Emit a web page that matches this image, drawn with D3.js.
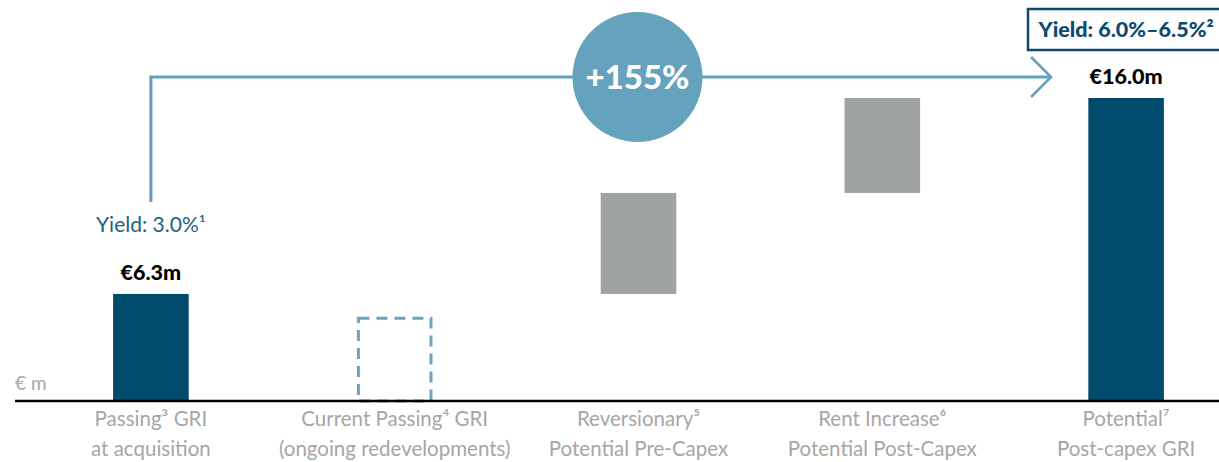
<!DOCTYPE html>
<html><head><meta charset="utf-8">
<script src="https://cdn.jsdelivr.net/npm/d3@7"></script>
<style>body{margin:0;background:#fff}svg{display:block}text{font-family:Lato,"Open Sans",sans-serif}</style>
</head><body><svg id="c" width="1219" height="462"></svg>
<script>
const categories = ["Passing³ GRI|at acquisition","Current Passing⁴ GRI|(ongoing redevelopments)","Reversionary⁵|Potential Pre-Capex","Rent Increase⁶|Potential Post-Capex","Potential⁷|Post-capex GRI"];
const barStart = [1.0, 1.0, 6.3, 11.3, 1.0];
const barEnd   = [6.3, 5.1, 11.3, 16.0, 16.0];
const barType  = ["solid","dashed","gray","gray","solid"];
const valueLabels = ["€6.3m", null, null, null, "€16.0m"];
const growthLabel = "+155%";
const yieldStart = "Yield: 3.0%¹";
const yieldEnd = "Yield: 6.0%–6.5%²";
const unitLabel = "€ m";

const svg = d3.select("#c");
const x = d3.scaleBand().domain(d3.range(categories.length)).range([29,1248]).paddingInner(0.69).paddingOuter(0.345);
const y = d3.scaleLinear().domain([1.0,16.0]).range([401,98]);
const cx = i => x(i) + x.bandwidth()/2;
const colors = {solid:"#004a6b", gray:"#9fa3a3"};

categories.forEach((c,i)=>{
  if(barType[i]==="dashed"){
    svg.append("rect").attr("x",x(i)+1.5).attr("y",y(barEnd[i])).attr("width",x.bandwidth()-3).attr("height",y(barStart[i])-y(barEnd[i]))
      .attr("fill","none").attr("stroke","#6aa5c0").attr("stroke-width",3).attr("stroke-dasharray","11,7");
  } else {
    svg.append("rect").attr("x",x(i)).attr("y",y(barEnd[i])).attr("width",x.bandwidth()).attr("height",y(barStart[i])-y(barEnd[i]))
      .attr("fill",colors[barType[i]]);
  }
  if(valueLabels[i]) svg.append("text").attr("x",cx(i)).attr("y",y(barEnd[i])-14).attr("text-anchor","middle")
      .attr("font-size",21.5).attr("font-weight",900).attr("fill","#000").text(valueLabels[i]);
  const parts = c.split("|");
  parts.forEach((p,k)=>svg.append("text").attr("x",cx(i)).attr("y",426+k*30).attr("text-anchor","middle")
      .attr("font-size",20.5).attr("fill","#a6a6a6").text(p));
});

svg.append("line").attr("x1",15).attr("x2",1219).attr("y1",401).attr("y2",401).attr("stroke","#000").attr("stroke-width",2.5);
svg.append("text").attr("x",15).attr("y",390).attr("font-size",19).attr("fill","#a6a6a6").text(unitLabel);

const ay = 77;
svg.append("path").attr("d",`M${cx(0)},${y(6.3)-92} V${ay} H${cx(4)-75}`).attr("fill","none").attr("stroke","#62a0bb").attr("stroke-width",3);
svg.append("path").attr("d",`M${cx(4)-95},${ay-20} L${cx(4)-75},${ay} L${cx(4)-95},${ay+20}`).attr("fill","none").attr("stroke","#62a0bb").attr("stroke-width",2.5);

svg.append("text").attr("x",cx(0)).attr("y",y(6.3)-62).attr("text-anchor","middle").attr("font-size",21).attr("fill","#1f5f82").text(yieldStart);

const ccx = (cx(0)+cx(4))/2 - 1;
svg.append("circle").attr("cx",ccx).attr("cy",ay).attr("r",65).attr("fill","#64a2bd");
svg.append("text").attr("x",ccx).attr("y",ay+12).attr("text-anchor","middle").attr("font-size",33).attr("font-weight",900).attr("fill","#fff").text(growthLabel);

svg.append("rect").attr("x",1028).attr("y",9).attr("width",200).attr("height",41).attr("fill","#fff").attr("stroke","#0d4a6e").attr("stroke-width",2.5);
svg.append("text").attr("x",cx(4)).attr("y",37).attr("text-anchor","middle").attr("font-size",21.5).attr("font-weight",900).attr("fill","#0d4a6e").text(yieldEnd);
</script></body></html>
